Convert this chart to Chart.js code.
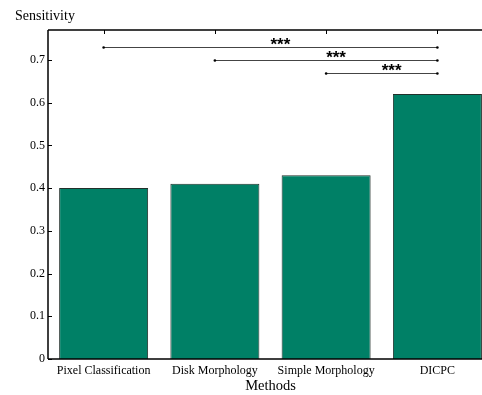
<!DOCTYPE html>
<html>
<head>
<meta charset="utf-8">
<script src="https://cdn.jsdelivr.net/npm/chart.js@4"></script>
<style>
  html, body { margin: 0; padding: 0; background: #fff; overflow: hidden; }
  #wrap { width: 482px; height: 395px; overflow: hidden; }
  #wrap div { width: 500px; height: 395px; }
</style>
</head>
<body>
<div id="wrap"><div><canvas id="chart"></canvas></div></div>
<script>
// data
const methods = ['Pixel Classification', 'Disk Morphology', 'Simple Morphology', 'DICPC'];
const sensitivity = [0.40, 0.41, 0.43, 0.62];
const yTicks = [0, 0.1, 0.2, 0.3, 0.4, 0.5, 0.6, 0.7];
// significance brackets: [from index, to index, height, label]
const sigFrom = [0, 1, 2];
const sigTo = [3, 3, 3];
const sigLevel = [0.73, 0.70, 0.67];
const sigLabel = ['***', '***', '***'];

const serif = '"Liberation Serif", "Times New Roman", serif';

// frame, inward ticks, y label and the significance bars
const extras = {
  id: 'extras',
  afterDraw(chart) {
    const { ctx, chartArea: a, scales: { x, y } } = chart;
    ctx.save();
    ctx.strokeStyle = '#000';
    ctx.lineWidth = 1.5;
    ctx.beginPath();
    ctx.moveTo(a.left, a.top); ctx.lineTo(a.right, a.top);
    ctx.moveTo(a.left, a.top); ctx.lineTo(a.left, a.bottom);
    ctx.moveTo(a.left, a.bottom); ctx.lineTo(a.right, a.bottom);
    ctx.moveTo(a.right, a.top); ctx.lineTo(a.right, a.bottom);
    ctx.stroke();
    ctx.lineWidth = 1;
    ctx.beginPath();
    yTicks.forEach(v => {
      const py = Math.round(y.getPixelForValue(v)) + 0.5;
      ctx.moveTo(a.left, py); ctx.lineTo(a.left + 4, py);
    });
    methods.forEach((m, i) => {
      const px = Math.round(x.getPixelForValue(i)) + 0.5;
      ctx.moveTo(px, a.top); ctx.lineTo(px, a.top + 4);
    });
    ctx.stroke();

    // significance lines
    sigLevel.forEach((lv, k) => {
      const x1 = x.getPixelForValue(sigFrom[k]);
      const x2 = x.getPixelForValue(sigTo[k]);
      const py = Math.round(y.getPixelForValue(lv)) + 0.5;
      ctx.strokeStyle = '#444';
      ctx.lineWidth = 1;
      ctx.beginPath();
      ctx.moveTo(x1, py); ctx.lineTo(x2, py);
      ctx.stroke();
      ctx.fillStyle = '#000';
      [x1, x2].forEach(px => {
        ctx.beginPath();
        ctx.arc(px, py, 1.3, 0, Math.PI * 2);
        ctx.fill();
      });
      ctx.font = 'bold 17px "Liberation Sans", Arial, sans-serif';
      ctx.textAlign = 'left';
      ctx.textBaseline = 'alphabetic';
      ctx.fillText(sigLabel[k], (x1 + x2) / 2, py + 2);
    });

    ctx.fillStyle = '#000';
    ctx.font = '14px ' + serif;
    ctx.textAlign = 'left';
    ctx.textBaseline = 'alphabetic';
    ctx.fillText('Sensitivity', 15, 20);
    ctx.restore();
  }
};

new Chart(document.getElementById('chart'), {
  type: 'bar',
  data: {
    labels: methods,
    datasets: [{
      data: sensitivity,
      backgroundColor: '#008066',
      borderColor: '#22302b',
      borderWidth: 1,
      borderSkipped: 'bottom',
      categoryPercentage: 1,
      barPercentage: 0.8
    }]
  },
  options: {
    responsive: true,
    maintainAspectRatio: false,
    animation: false,
    layout: { padding: { top: 30, right: 7, left: 0, bottom: 0 } },
    plugins: { legend: { display: false }, tooltip: { enabled: false } },
    scales: {
      x: {
        grid: { display: false, drawTicks: false },
        border: { display: false },
        ticks: { color: '#000', font: { family: serif, size: 12 }, padding: 5, maxRotation: 0, autoSkip: false },
        title: { display: true, text: 'Methods', color: '#000', font: { family: serif, size: 14.5 }, padding: { top: 0, bottom: 0 } },
        afterFit: s => { s.height = 36; }
      },
      y: {
        min: 0,
        max: 0.77,
        grid: { display: false, drawTicks: false },
        border: { display: false },
        afterBuildTicks: s => { s.ticks = yTicks.map(v => ({ value: v })); },
        ticks: {
          color: '#000',
          font: { family: serif, size: 12 },
          padding: 3,
          callback: v => v === 0 ? '0' : v.toFixed(1)
        },
        afterFit: s => { s.width = 48; }
      }
    }
  },
  plugins: [extras]
});
</script>
</body>
</html>
